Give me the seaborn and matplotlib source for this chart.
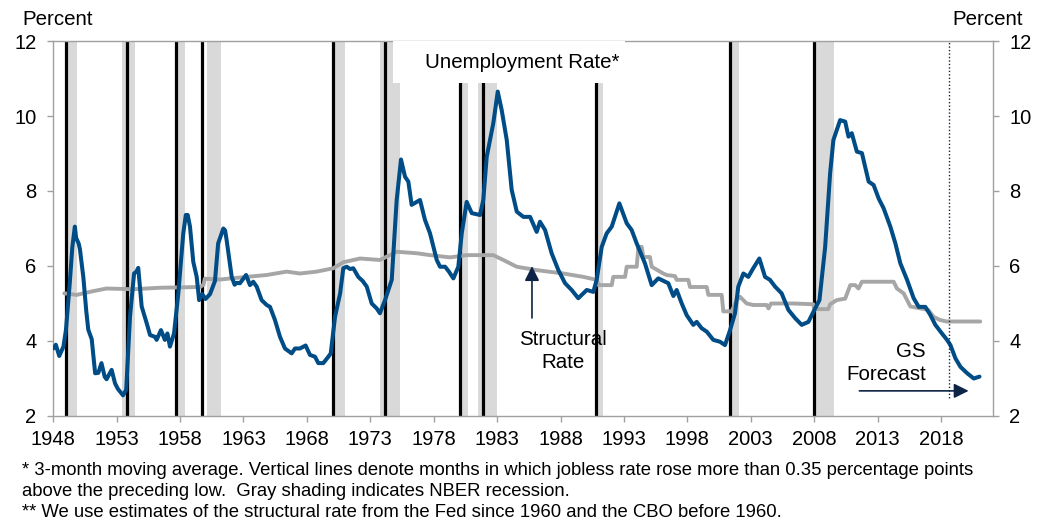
import seaborn as sns
import matplotlib.pyplot as plt
import numpy as np
import pandas as pd

# Unemployment rate (3-month moving average)
ur_year = [1948.0, 1948.2, 1948.47, 1948.8, 1949.0, 1949.3, 1949.5, 1949.7, 1949.8, 1950.0,
           1950.1, 1950.37, 1950.6, 1950.76, 1951.03, 1951.3, 1951.55, 1951.8, 1952.05, 1952.2,
           1952.6, 1952.87, 1953.1, 1953.5, 1953.75, 1954.05, 1954.37, 1954.55, 1954.7, 1954.97,
           1955.37, 1955.63, 1956.02, 1956.15, 1956.49, 1956.8, 1957.0, 1957.2, 1957.52, 1957.86,
           1958.25, 1958.45, 1958.6, 1958.78, 1959.04, 1959.31, 1959.5, 1959.75, 1960.0, 1960.36,
           1960.75, 1961.0, 1961.41, 1961.55, 1961.67, 1962.07, 1962.3, 1962.46, 1962.72, 1963.2,
           1963.51, 1963.77, 1964.04, 1964.43, 1964.83, 1965.09, 1965.48, 1965.88, 1966.27, 1966.8,
           1967.06, 1967.45, 1967.9, 1968.24, 1968.64, 1968.9, 1969.29, 1969.69, 1969.88, 1970.22,
           1970.62, 1970.87, 1971.14, 1971.4, 1971.66, 1972.05, 1972.4, 1972.72, 1973.11, 1973.5,
           1973.76, 1974.16, 1974.69, 1975.08, 1975.42, 1975.74, 1976.0, 1976.26, 1976.66, 1976.92,
           1977.31, 1977.71, 1978.24, 1978.5, 1978.9, 1979.2, 1979.55, 1979.94, 1980.21, 1980.6,
           1981.0, 1981.65, 1981.91, 1982.18, 1982.7, 1983.05, 1983.36, 1983.76, 1984.15, 1984.55,
           1985.07, 1985.6, 1986.12, 1986.38, 1986.78, 1987.3, 1987.83, 1988.36, 1988.88, 1989.4,
           1990.07, 1990.59, 1990.85, 1991.25, 1991.64, 1992.04, 1992.64, 1993.22, 1993.61, 1994.01,
           1994.66, 1995.19, 1995.71, 1996.5, 1996.9, 1997.16, 1997.56, 1997.95, 1998.47, 1998.74,
           1999.13, 1999.53, 2000.05, 2000.58, 2000.97, 2001.37, 2001.76, 2002.02, 2002.42, 2002.81,
           2003.2, 2003.68, 2004.13, 2004.52, 2004.92, 2005.44, 2005.97, 2006.5, 2007.02, 2007.55,
           2008.02, 2008.42, 2008.87, 2009.26, 2009.52, 2010.05, 2010.45, 2010.71, 2010.97, 2011.37,
           2011.77, 2012.3, 2012.69, 2013.09, 2013.48, 2014.01, 2014.41, 2014.8, 2015.33, 2015.85,
           2016.25, 2016.77, 2017.17, 2017.56, 2018.08, 2018.48, 2018.75, 2019.14, 2019.54, 2020.07,
           2020.59, 2021.04]
ur_value = [3.80, 3.90, 3.60, 3.85, 4.30, 5.55, 6.50, 7.05, 6.75, 6.60,
            6.45, 5.70, 4.80, 4.30, 4.05, 3.14, 3.15, 3.41, 3.05, 2.98,
            3.23, 2.87, 2.72, 2.55, 2.70, 4.65, 5.80, 5.85, 5.95, 4.92,
            4.47, 4.16, 4.11, 4.03, 4.29, 4.03, 4.20, 3.85, 4.20, 5.27,
            6.87, 7.36, 7.36, 7.05, 6.11, 5.71, 5.09, 5.25, 5.12, 5.25,
            5.60, 6.60, 7.00, 6.95, 6.69, 5.71, 5.50, 5.55, 5.54, 5.76,
            5.49, 5.58, 5.45, 5.09, 4.96, 4.91, 4.56, 4.11, 3.80, 3.67,
            3.80, 3.80, 3.88, 3.63, 3.58, 3.41, 3.41, 3.58, 3.67, 4.65,
            5.27, 5.94, 5.98, 5.92, 5.94, 5.71, 5.60, 5.45, 5.00, 4.87,
            4.74, 5.09, 5.63, 7.76, 8.84, 8.38, 8.25, 7.63, 7.71, 7.76,
            7.23, 6.87, 6.16, 5.98, 5.98, 5.85, 5.67, 5.98, 6.87, 7.71,
            7.41, 7.36, 7.76, 8.91, 9.81, 10.65, 10.16, 9.36, 8.03, 7.45,
            7.31, 7.31, 6.91, 7.18, 6.96, 6.34, 5.89, 5.54, 5.36, 5.14,
            5.36, 5.31, 5.63, 6.51, 6.87, 7.05, 7.67, 7.14, 6.96, 6.60,
            6.07, 5.49, 5.67, 5.54, 5.20, 5.36, 5.00, 4.69, 4.43, 4.51,
            4.34, 4.25, 4.03, 3.98, 3.89, 4.29, 4.74, 5.45, 5.80, 5.71,
            5.94, 6.20, 5.71, 5.63, 5.45, 5.27, 4.83, 4.61, 4.43, 4.51,
            4.83, 5.09, 6.51, 8.47, 9.36, 9.89, 9.85, 9.45, 9.54, 9.05,
            9.01, 8.25, 8.16, 7.80, 7.54, 7.05, 6.60, 6.07, 5.63, 5.14,
            4.91, 4.91, 4.69, 4.43, 4.20, 4.03, 3.89, 3.54, 3.31, 3.14,
            3.00, 3.05]

# Structural rate
sr_year = [1948.87, 1949.84, 1951.15, 1952.2, 1954.3, 1956.4, 1959.57, 1959.85, 1959.95, 1961.15,
           1963.25, 1964.83, 1966.4, 1967.45, 1968.77, 1970.08, 1970.87, 1972.19, 1973.76, 1975.08,
           1976.66, 1977.71, 1979.29, 1980.6, 1982.7, 1983.49, 1984.55, 1986.12, 1988.22, 1989.8,
           1990.85, 1991.0, 1992.04, 1992.16, 1993.09, 1993.22, 1994.01, 1994.14, 1994.4, 1994.53,
           1995.05, 1995.19, 1996.1, 1996.37, 1997.03, 1997.16, 1998.08, 1998.21, 1999.53, 1999.66,
           2000.71, 2000.84, 2001.5, 2001.89, 2002.15, 2002.68, 2003.2, 2004.26, 2004.4, 2004.6,
           2006.36, 2007.94, 2008.0, 2009.12, 2009.26, 2009.78, 2010.45, 2010.85, 2011.24, 2011.5,
           2011.77, 2014.27, 2014.53, 2015.06, 2015.59, 2017.0, 2017.4, 2017.92, 2018.45, 2021.1]
sr_value = [5.27, 5.23, 5.33, 5.40, 5.38, 5.42, 5.44, 5.50, 5.66, 5.64,
            5.71, 5.76, 5.85, 5.80, 5.85, 5.94, 6.10, 6.20, 6.16, 6.38,
            6.34, 6.29, 6.23, 6.29, 6.29, 6.16, 5.98, 5.89, 5.80, 5.71,
            5.63, 5.49, 5.49, 5.71, 5.71, 5.98, 5.98, 6.51, 6.51, 6.24,
            6.24, 5.98, 5.80, 5.76, 5.73, 5.63, 5.63, 5.44, 5.44, 5.23,
            5.23, 4.79, 4.79, 5.09, 5.18, 5.00, 4.96, 4.96, 4.87, 5.00,
            5.00, 4.98, 4.85, 4.85, 4.98, 5.09, 5.13, 5.49, 5.49, 5.40,
            5.58, 5.58, 5.40, 5.27, 4.92, 4.83, 4.65, 4.56, 4.52, 4.52]

# NBER recessions (shaded) and months where jobless rate rose > 0.35pp above low
rec_start = [1949.06, 1953.40, 1957.73, 1960.15, 1970.16, 1973.77, 1980.07, 1981.47, 1990.77, 2001.34, 2008.07]
rec_end = [1949.85, 1954.44, 1958.39, 1961.20, 1971.00, 1975.34, 1980.68, 1982.97, 1991.37, 2002.07, 2009.60]
signal_years = [1948.98, 1953.84, 1957.68, 1959.75, 1970.08, 1974.18, 1980.07, 1981.91, 1990.77, 2001.34, 2008.01]
forecast_start = 2018.67

year_ticks = list(range(1948, 2019, 5))
pct_ticks = [2, 4, 6, 8, 10, 12]

blue = '#004c86'
grey = '#a6a6a6'
shade = '#d9d9d9'
navy = '#0d2446'
frame = '#a0a0a0'

sns.set_style('white')
plt.rcParams['font.family'] = ['Liberation Sans', 'DejaVu Sans']
plt.rcParams['text.color'] = 'black'

fig = plt.figure(figsize=(10.49, 5.23), dpi=100)
ax = fig.add_axes([0.0508, 0.2046, 0.8955, 0.717])

for s, e in zip(rec_start, rec_end):
    ax.axvspan(s, e, color=shade, lw=0, zorder=1)
for x in signal_years:
    ax.axvline(x, color='black', lw=2.3, zorder=2)

ur = pd.DataFrame({'year': ur_year, 'rate': ur_value})
sr = pd.DataFrame({'year': sr_year, 'rate': sr_value})
sns.lineplot(data=sr, x='year', y='rate', color=grey, lw=2.8, ax=ax, zorder=3, sort=False)
sns.lineplot(data=ur, x='year', y='rate', color=blue, lw=2.9, ax=ax, zorder=4, sort=False)

ax.vlines(forecast_start, 2.48, 12, colors=navy, linestyles=(0, (1, 1.5)), lw=1.0, zorder=5)

ax.set_xlim(1948, 2022.08)
ax.set_ylim(2, 12)
ax.set_xticks(year_ticks)
ax.set_yticks(pct_ticks)
ax.set_xlabel('')
ax.set_ylabel('')
for sp in ax.spines.values():
    sp.set_color(frame)
    sp.set_linewidth(1.0)
ax.tick_params(axis='both', direction='out', length=4, width=1.0, color=frame, labelcolor='black')
ax.tick_params(axis='y', labelsize=14.5, pad=8, right=True, labelright=True, left=True)
ax.tick_params(axis='x', labelsize=14.5, pad=6, bottom=True)

# white label box at top
ax.add_patch(plt.Rectangle((1974.79, 10.88), 18.3, 1.12, facecolor='white', edgecolor='none', zorder=6))
ax.text(1985.0, 11.43, 'Unemployment Rate*', ha='center', va='center', fontsize=14.8, zorder=7)

ax.annotate('', xy=(1985.75, 6.07), xytext=(1985.75, 4.54),
            arrowprops=dict(arrowstyle='-|>', color=navy, lw=1.2, mutation_scale=22), zorder=7)
ax.text(1988.2, 3.73, 'Structural\nRate', ha='center', va='center', fontsize=14.8,
        linespacing=1.25, zorder=7)

ax.annotate('', xy=(2020.4, 2.67), xytext=(2011.35, 2.67),
            arrowprops=dict(arrowstyle='-|>', color=navy, lw=1.2, mutation_scale=22), zorder=7)
ax.text(2016.82, 3.42, 'GS\nForecast', ha='right', va='center', fontsize=14.8,
        linespacing=1.25, multialignment='right', zorder=7)

fig.text(22 / 1049, 1 - 25 / 523, 'Percent', ha='left', va='baseline', fontsize=14.8)
fig.text(1023 / 1049, 1 - 25 / 523, 'Percent', ha='right', va='baseline', fontsize=14.8)

notes = ['* 3-month moving average. Vertical lines denote months in which jobless rate rose more than 0.35 percentage points',
         'above the preceding low.  Gray shading indicates NBER recession.',
         '** We use estimates of the structural rate from the Fed since 1960 and the CBO before 1960.']
for i, line in enumerate(notes):
    fig.text(22 / 1049, 1 - (475 + 21 * i) / 523, line, ha='left', va='baseline', fontsize=13.3)

fig.savefig('out.png', dpi=100)
